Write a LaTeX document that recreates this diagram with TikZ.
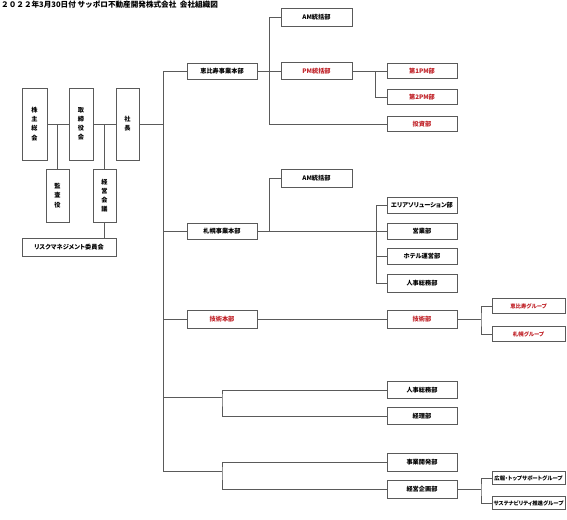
\documentclass[tikz,border=0pt]{standalone}
\usepackage{fontspec}
\setmainfont{Noto Sans CJK JP}[RawFeature=+palt]
\newfontfamily\titlefont{Noto Sans CJK JP}
\usetikzlibrary{calc}
\definecolor{orgred}{RGB}{192,32,38}
\definecolor{orgline}{RGB}{90,90,90}

\tikzset{
  unit/.style={draw=orgline, line width=0.8pt, fill=white, inner sep=0pt,
    minimum width=70pt, minimum height=16pt,
    font=\bfseries\fontsize{6.2}{7}\selectfont},
  tall/.style={unit, align=center, minimum width=24pt, minimum height=72pt,
    font=\bfseries\fontsize{6.2}{9.2}\selectfont},
  grp/.style={unit, minimum width=73pt, minimum height=15pt,
    font=\bfseries\fontsize{5.4}{6}\selectfont},
  hot/.style={text=orgred},
  wire/.style={draw=orgline, line width=0.8pt}
}

\begin{document}
\begin{tikzpicture}[x=1pt,y=-1pt]
  \useasboundingbox[fill=white] (0,0) rectangle (567,519);
  \node[anchor=west, inner sep=0pt, font=\titlefont\bfseries\fontsize{7.6}{8}\selectfont] (title) at (1,5)
    {２０２２年3月30日付\ サッポロ不動産開発株式会社\ \ 会社組織図};

  % governance
  \node[tall, minimum width=25pt] (kabu) at (34.5,124) {株\\主\\総\\会};
  \node[tall] (tori) at (81,124) {取\\締\\役\\会};
  \node[tall, minimum width=23pt] (shacho) at (127.5,124) {社\\長};
  \node[tall, minimum width=23pt, minimum height=53pt] (kansa) at (57.5,195.5) {監\\査\\役};
  \node[tall, minimum width=23pt, minimum height=53pt] (keiei) at (104.5,195.5) {経\\営\\会\\議};
  \node[unit, minimum width=94pt, minimum height=18pt] (risk) at (69,247) {リスクマネジメント委員会};

  \draw[wire] (kabu.east) -- (tori.west);
  \draw[wire] (tori.east) -- (shacho.west);
  \draw[wire] (kansa.north) -- (kansa.north |- kabu.east);
  \draw[wire] (keiei.north) -- (keiei.north |- tori.east);
  \draw[wire] (keiei.south) -- (keiei.south |- risk.north);

  % trunk
  \coordinate (trTop) at (163,71);
  \coordinate (trBot) at (163,471);
  \draw[wire] (trTop) -- (trBot);
  \draw[wire] (shacho.east) -- (shacho.east -| trTop);

  % ebisu
  \node[unit] (ebisuHQ) at (222,71) {恵比寿事業本部};
  \node[unit, minimum width=71pt, minimum height=18pt] (amA) at (316.5,17) {AM統括部};
  \node[unit, hot, minimum width=71pt, minimum height=17pt] (pmA) at (316.5,71) {PM統括部};
  \node[unit, hot, minimum height=15pt] (pm1) at (422,71) {第1PM部};
  \node[unit, hot, minimum height=15pt] (pm2) at (422,97) {第2PM部};
  \node[unit, hot, minimum height=15pt] (toshi) at (422,124) {投資部};
  \coordinate (brE) at (269,124);
  \coordinate (brPM) at (375,71);
  \draw[wire] (trTop) -- (ebisuHQ.west);
  \draw[wire] (ebisuHQ.east) -- (pmA.west);
  \draw[wire] (amA.west) -| (brE) -- (toshi.west);
  \draw[wire] (pmA.east) -- (pm1.west);
  \draw[wire] (brPM) |- (pm2.west);

  % sapporo
  \node[unit] (sapHQ) at (222,231) {札幌事業本部};
  \node[unit, minimum width=71pt, minimum height=18pt] (amB) at (316.5,178) {AM統括部};
  \node[unit] (area) at (422,205) {エリアソリューション部};
  \node[unit] (eigyo) at (422,231) {営業部};
  \node[unit] (hotel) at (422,256) {ホテル運営部};
  \node[unit, minimum height=18pt] (jinjiA) at (422,283) {人事総務部};
  \coordinate (brS) at (269,231);
  \coordinate (brSb) at (376,283);
  \draw[wire] (trTop |- sapHQ.west) -- (sapHQ.west);
  \draw[wire] (sapHQ.east) -- (eigyo.west);
  \draw[wire] (amB.west) -| (brS);
  \draw[wire] (area.west) -| (brSb) -- (jinjiA.west);
  \draw[wire] (hotel.west) -- (hotel.west -| brSb);

  % gijutsu
  \node[unit, hot, minimum height=18pt] (gijHQ) at (222,319) {技術本部};
  \node[unit, hot, minimum height=18pt] (gij) at (422,319) {技術部};
  \node[grp, hot] (ebG) at (528.5,306) {恵比寿グループ};
  \node[grp, hot] (sapG) at (528.5,334) {札幌グループ};
  \coordinate (brG) at (481,319);
  \draw[wire] (trTop |- gijHQ.west) -- (gijHQ.west);
  \draw[wire] (gijHQ.east) -- (gij.west);
  \draw[wire] (gij.east) -- (brG);
  \draw[wire] (ebG.west) -| (brG) |- (sapG.west);

  % kanri
  \node[unit, minimum height=17pt] (jinjiB) at (422,390) {人事総務部};
  \node[unit, minimum height=17pt] (keiri) at (422,416) {経理部};
  \coordinate (brA) at (222,397);
  \draw[wire] (trTop |- brA) -- (brA);
  \draw[wire] (jinjiB.west) -| (brA) |- (keiri.west);

  % kikaku
  \node[unit, minimum height=18pt] (jigyo) at (422,462) {事業開発部};
  \node[unit, minimum height=18pt] (kikaku) at (422,489) {経営企画部};
  \node[grp, minimum height=13pt] (koho) at (528.5,478) {広報・トップサポートグループ};
  \node[grp, minimum height=13pt] (sust) at (528.5,503) {サステナビリティ推進グループ};
  \coordinate (brB) at (222,471);
  \coordinate (brK) at (481,489);
  \draw[wire] (trBot) -- (brB);
  \draw[wire] (jigyo.west) -| (brB) |- (kikaku.west);
  \draw[wire] (kikaku.east) -- (brK);
  \draw[wire] (koho.west) -| (brK) |- (sust.west);
\end{tikzpicture}
\end{document}
